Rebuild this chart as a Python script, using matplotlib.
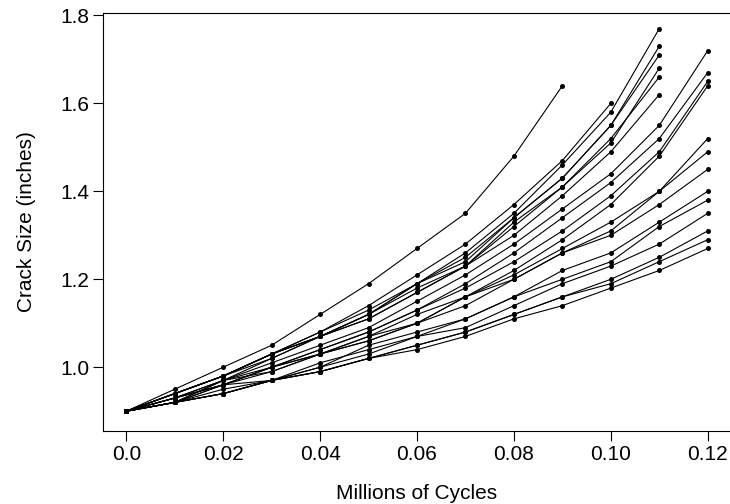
import numpy as np
import matplotlib
matplotlib.use("Agg")
import matplotlib.pyplot as plt

plt.rcParams['font.family'] = ['Liberation Sans', 'DejaVu Sans']

# Millions of cycles at each inspection
cycles = [0.00, 0.01, 0.02, 0.03, 0.04, 0.05, 0.06,
          0.07, 0.08, 0.09, 0.10, 0.11, 0.12]

# Crack size (inches) per sample path
path_01 = [0.90, 0.95, 1.00, 1.05, 1.12, 1.19, 1.27, 1.35, 1.48, 1.64]
path_02 = [0.90, 0.94, 0.98, 1.03, 1.08, 1.14, 1.21, 1.28, 1.37, 1.47, 1.60]
path_03 = [0.90, 0.94, 0.98, 1.03, 1.08, 1.13, 1.19, 1.26, 1.35, 1.46, 1.58, 1.77]
path_04 = [0.90, 0.94, 0.98, 1.03, 1.07, 1.12, 1.19, 1.25, 1.34, 1.43, 1.55, 1.73]
path_05 = [0.90, 0.94, 0.98, 1.03, 1.07, 1.12, 1.19, 1.24, 1.34, 1.43, 1.55, 1.71]
path_06 = [0.90, 0.94, 0.98, 1.03, 1.07, 1.12, 1.18, 1.23, 1.33, 1.41, 1.51, 1.68]
path_07 = [0.90, 0.94, 0.98, 1.02, 1.07, 1.11, 1.17, 1.23, 1.32, 1.41, 1.52, 1.66]
path_08 = [0.90, 0.93, 0.97, 1.02, 1.07, 1.11, 1.17, 1.23, 1.30, 1.39, 1.49, 1.62]
path_09 = [0.90, 0.92, 0.97, 1.01, 1.05, 1.09, 1.15, 1.21, 1.28, 1.36, 1.44, 1.55, 1.72]
path_10 = [0.90, 0.92, 0.96, 1.00, 1.04, 1.08, 1.13, 1.19, 1.26, 1.34, 1.42, 1.52, 1.67]
path_11 = [0.90, 0.93, 0.96, 1.00, 1.04, 1.08, 1.13, 1.18, 1.24, 1.31, 1.39, 1.49, 1.65]
path_12 = [0.90, 0.93, 0.97, 1.00, 1.03, 1.07, 1.10, 1.16, 1.22, 1.29, 1.37, 1.48, 1.64]
path_13 = [0.90, 0.92, 0.97, 0.99, 1.03, 1.06, 1.10, 1.14, 1.20, 1.26, 1.31, 1.40, 1.52]
path_14 = [0.90, 0.93, 0.96, 1.00, 1.03, 1.07, 1.12, 1.16, 1.20, 1.26, 1.30, 1.37, 1.45]
path_15 = [0.90, 0.92, 0.96, 0.99, 1.03, 1.06, 1.10, 1.16, 1.21, 1.27, 1.33, 1.40, 1.49]
path_16 = [0.90, 0.92, 0.95, 0.97, 1.00, 1.03, 1.07, 1.11, 1.16, 1.22, 1.26, 1.33, 1.40]
path_17 = [0.90, 0.93, 0.96, 0.97, 1.00, 1.05, 1.08, 1.11, 1.16, 1.20, 1.24, 1.32, 1.38]
path_18 = [0.90, 0.92, 0.94, 0.97, 1.01, 1.04, 1.07, 1.09, 1.14, 1.19, 1.23, 1.28, 1.35]
path_19 = [0.90, 0.92, 0.94, 0.97, 0.99, 1.02, 1.05, 1.08, 1.12, 1.16, 1.20, 1.25, 1.31]
path_20 = [0.90, 0.92, 0.94, 0.97, 0.99, 1.02, 1.05, 1.08, 1.12, 1.16, 1.19, 1.24, 1.29]
path_21 = [0.90, 0.92, 0.94, 0.97, 0.99, 1.02, 1.04, 1.07, 1.11, 1.14, 1.18, 1.22, 1.27]

paths = [path_01, path_02, path_03, path_04, path_05, path_06, path_07,
         path_08, path_09, path_10, path_11, path_12, path_13, path_14,
         path_15, path_16, path_17, path_18, path_19, path_20, path_21]

x_ticks = [0.0, 0.02, 0.04, 0.06, 0.08, 0.10, 0.12]
x_tick_labels = ["0.0", "0.02", "0.04", "0.06", "0.08", "0.10", "0.12"]
y_ticks = [1.0, 1.2, 1.4, 1.6, 1.8]
y_tick_labels = ["1.0", "1.2", "1.4", "1.6", "1.8"]

fig = plt.figure(figsize=(7.3, 5.04), dpi=100)
# right edge of the box sits just past the image edge, as in the reference
ax = fig.add_axes([103 / 730, 73 / 504, 628 / 730, 418 / 504])

for p in paths:
    x = cycles[:len(p)]
    ax.plot(x, p, color='black', lw=0.8, zorder=2)
    ax.plot(x, p, 'o', color='black', ms=3.6, mew=0, zorder=3)

ax.set_xlim(-0.0048, 0.1248)
ax.set_ylim(0.855, 1.8055)

ax.set_xticks(x_ticks)
ax.set_xticklabels(x_tick_labels)
ax.set_yticks(y_ticks)
ax.set_yticklabels(y_tick_labels)
ax.tick_params(direction='out', length=7, width=0.8, labelsize=15, pad=3)

for sp in ax.spines.values():
    sp.set_linewidth(0.8)

ax.set_xlabel('Millions of Cycles', fontsize=15, labelpad=14.5)
ax.set_ylabel('Crack Size (inches)', fontsize=15, labelpad=17)

fig.savefig('out.png', dpi=100)
